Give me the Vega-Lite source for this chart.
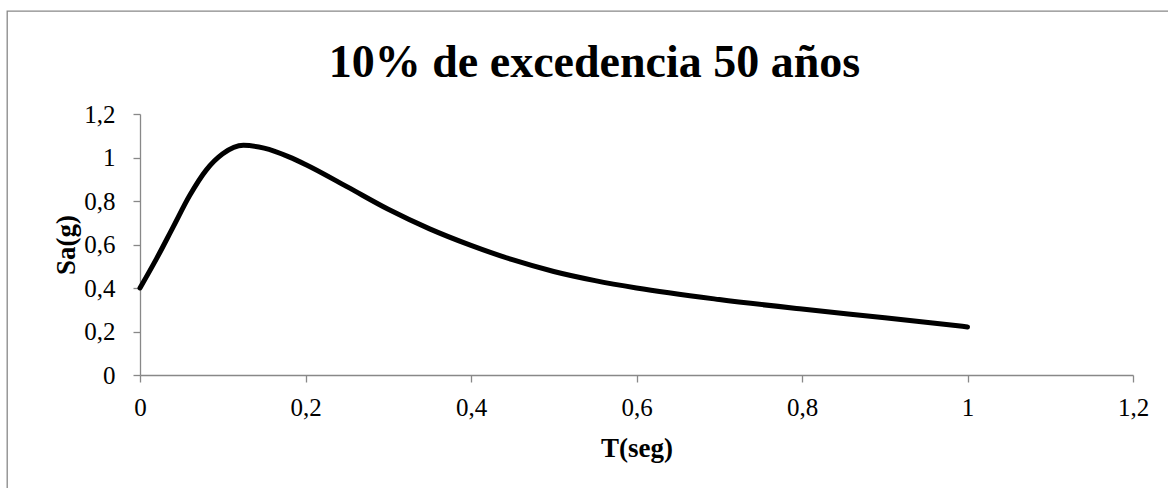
{
  "$schema": "https://vega.github.io/schema/vega-lite/v6.json",
  "autosize": {"type": "none"},
  "padding": {"left": 7, "top": 11, "right": -10, "bottom": -10},
  "width": 1171,
  "height": 487,
  "background": "white",
  "title": {
    "text": "10% de excedencia 50 años",
    "font": "Liberation Serif",
    "fontSize": 46,
    "fontWeight": "bold",
    "color": "black",
    "anchor": "middle",
    "frame": "group",
    "baseline": "alphabetic",
    "offset": -112,
    "dx": 2
  },
  "config": {
    "view": {"stroke": "#888888", "strokeWidth": 1.3}
  },
  "data": {
    "values": [
      {"T": 0.00, "Sa": 0.400},
      {"T": 0.02, "Sa": 0.535},
      {"T": 0.04, "Sa": 0.680},
      {"T": 0.06, "Sa": 0.825},
      {"T": 0.08, "Sa": 0.942},
      {"T": 0.10, "Sa": 1.017},
      {"T": 0.125, "Sa": 1.056},
      {"T": 0.15, "Sa": 1.043},
      {"T": 0.18, "Sa": 1.003},
      {"T": 0.20, "Sa": 0.968},
      {"T": 0.25, "Sa": 0.866},
      {"T": 0.30, "Sa": 0.762},
      {"T": 0.35, "Sa": 0.672},
      {"T": 0.40, "Sa": 0.596},
      {"T": 0.45, "Sa": 0.530},
      {"T": 0.50, "Sa": 0.476},
      {"T": 0.55, "Sa": 0.434},
      {"T": 0.60, "Sa": 0.400},
      {"T": 0.70, "Sa": 0.347},
      {"T": 0.80, "Sa": 0.303},
      {"T": 0.90, "Sa": 0.263},
      {"T": 1.00, "Sa": 0.221}
    ]
  },
  "mark": {
    "type": "line",
    "color": "black",
    "strokeWidth": 5,
    "interpolate": "monotone",
    "strokeCap": "round",
    "strokeJoin": "round"
  },
  "encoding": {
    "x": {
      "field": "T",
      "type": "quantitative",
      "scale": {"domain": [0, 1.2], "range": [133, 1126], "nice": false, "zero": false},
      "axis": {
        "title": "T(seg)",
        "values": [0, 0.2, 0.4, 0.6, 0.8, 1, 1.2],
        "labelExpr": "replace(format(datum.value, '~g'), '.', ',')",
        "offset": -123,
        "grid": false,
        "domainColor": "#888888",
        "domainWidth": 1.3,
        "tickColor": "#888888",
        "tickWidth": 1.3,
        "tickSize": 7,
        "labelFont": "Liberation Serif",
        "labelFontSize": 25,
        "labelColor": "black",
        "labelPadding": 13,
        "labelFlush": false,
        "labelOverlap": false,
        "titleFont": "Liberation Serif",
        "titleFontSize": 27,
        "titleFontWeight": "bold",
        "titleColor": "black",
        "titleY": 81,
        "titleBaseline": "alphabetic"
      }
    },
    "y": {
      "field": "Sa",
      "type": "quantitative",
      "scale": {"domain": [0, 1.2], "range": [364, 103], "nice": false, "zero": false},
      "axis": {
        "title": "Sa(g)",
        "values": [0, 0.2, 0.4, 0.6, 0.8, 1, 1.2],
        "labelExpr": "replace(format(datum.value, '~g'), '.', ',')",
        "offset": -133,
        "grid": false,
        "domainColor": "#888888",
        "domainWidth": 1.3,
        "tickColor": "#888888",
        "tickWidth": 1.3,
        "tickSize": 7,
        "labelFont": "Liberation Serif",
        "labelFontSize": 25,
        "labelColor": "black",
        "labelPadding": 18,
        "labelFlush": false,
        "labelOverlap": false,
        "titleFont": "Liberation Serif",
        "titleFontSize": 27,
        "titleFontWeight": "bold",
        "titleColor": "black",
        "titleX": -66,
        "titleY": 233.5,
        "titleAngle": -90,
        "titleAlign": "center",
        "titleBaseline": "alphabetic"
      }
    }
  }
}
